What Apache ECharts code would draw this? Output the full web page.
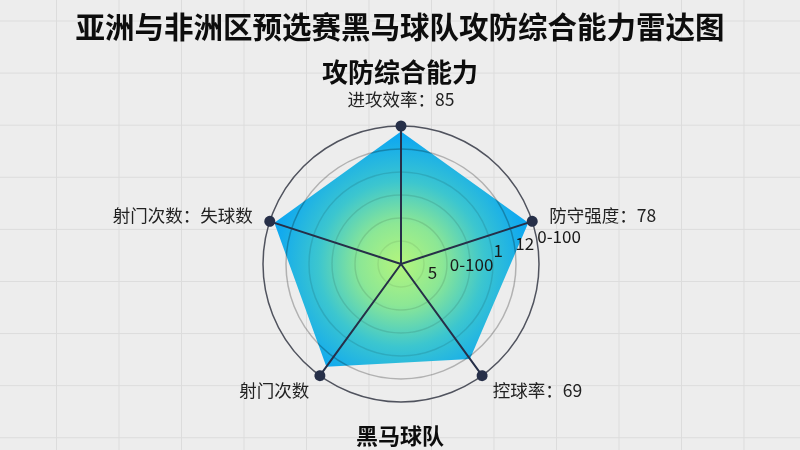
<!DOCTYPE html>
<html>
<head>
<meta charset="utf-8">
<script src="https://cdn.jsdelivr.net/npm/echarts@6/dist/echarts.min.js"></script>
<style>
html, body { margin: 0; padding: 0; width: 800px; height: 450px; overflow: hidden; }
body {
  background-color: #ededed;
  background-image:
    linear-gradient(to right, #dcdcdc 1.3px, transparent 1.3px),
    linear-gradient(to bottom, #dcdcdc 1.3px, transparent 1.3px);
  background-size: 62.5px 52.1px;
  background-position: 56px 20.5px;
}
#chart { width: 800px; height: 450px; }
</style>
</head>
<body>
<div id="chart"></div>
<script>
// Data (indicators listed counter-clockwise from the top, as ECharts radar places them)
const indicatorNames = ['进攻效率：85', '射门次数：失球数', '射门次数', '控球率：69', '防守强度：78'];
const indicatorMax = [100, 100, 100, 100, 100];
const seriesName = '黑马球队';
const seriesValues = [96, 96.5, 92, 85, 97];
const axisTickLabels = ['', '5', '0-100', '', '1', '12', '0-100'];

const FONT = '"Noto Sans CJK SC", "Noto Sans", sans-serif';
const chart = echarts.init(document.getElementById('chart'), null, { renderer: 'canvas' });

const indicators = indicatorNames.map((n, i) => {
  const o = { name: n, max: indicatorMax[i], min: 0 };
  if (i === 4) {
    o.axisLabel = {
      show: true,
      color: '#1a1a1a',
      fontSize: 17,
      fontFamily: FONT,
      margin: -16,
      align: 'left',
      verticalAlign: 'middle',
      showMaxLabel: true,
      showMinLabel: true,
      hideOverlap: false,
      formatter: (v, idx) => axisTickLabels[idx] || ''
    };
  }
  return o;
});

chart.setOption({
  backgroundColor: 'transparent',
  title: [
    {
      text: '亚洲与非洲区预选赛黑马球队攻防综合能力雷达图',
      left: 'center', top: 7,
      textStyle: { fontFamily: FONT, fontSize: 29.5, fontWeight: 'bold', color: '#0d0d0d' }
    },
    {
      text: '攻防综合能力',
      left: 'center', top: 54,
      textStyle: { fontFamily: FONT, fontSize: 26, fontWeight: 'bold', color: '#0d0d0d' }
    },
    {
      text: seriesName,
      left: 'center', top: 420,
      textStyle: { fontFamily: FONT, fontSize: 22, fontWeight: 'bold', color: '#0d0d0d' }
    }
  ],
  radar: {
    center: [401, 264],
    radius: 138,
    startAngle: 90,
    splitNumber: 6,
    shape: 'circle',
    z: 3,
    nameGap: 18,
    indicator: indicators,
    axisName: { color: '#222', fontSize: 17.5, fontFamily: FONT },
    splitLine: {
      lineStyle: {
        color: ['rgba(0,0,0,0)', 'rgba(0,0,0,0.07)', 'rgba(0,0,0,0.1)', 'rgba(0,0,0,0.1)', 'rgba(0,0,0,0.11)', 'rgba(0,0,0,0.25)', '#50535e'],
        width: 1.5
      }
    },
    splitArea: { show: false },
    axisTick: { show: false },
    axisLine: {
      symbol: ['none', 'circle'],
      symbolSize: [11, 11],
      lineStyle: { color: '#262f48', width: 2 }
    }
  },
  series: [{
    type: 'radar',
    name: seriesName,
    symbol: 'none',
    lineStyle: { width: 0 },
    areaStyle: {
      opacity: 1,
      color: {
        type: 'radial', x: 401, y: 264, r: 138, global: true,
        colorStops: [
          { offset: 0, color: '#b4f57c' },
          { offset: 0.3, color: '#8ce795' },
          { offset: 0.6, color: '#3cc6cf' },
          { offset: 0.9, color: '#12aaee' },
          { offset: 1, color: '#0aa4f2' }
        ]
      }
    },
    data: [{ name: seriesName, value: seriesValues }]
  }]
});
</script>
</body>
</html>
